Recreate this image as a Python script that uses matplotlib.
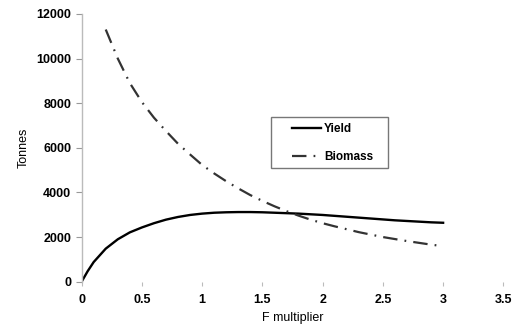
import matplotlib
matplotlib.use("Agg")
import matplotlib.pyplot as plt
from matplotlib.patches import Rectangle

f_yield = [0.0, 0.05, 0.1, 0.2, 0.3, 0.4, 0.5, 0.6, 0.7, 0.8, 0.9, 1.0, 1.1, 1.2, 1.3, 1.4, 1.5,
           1.6, 1.7, 1.8, 1.9, 2.0, 2.1, 2.2, 2.3, 2.4, 2.5, 2.6, 2.7, 2.8, 2.9, 3.0]
yield_t = [0, 470, 880, 1480, 1900, 2210, 2430, 2620, 2780, 2900, 2990, 3050, 3090, 3110, 3120,
           3120, 3110, 3090, 3070, 3050, 3020, 2990, 2950, 2910, 2870, 2830, 2790, 2750,
           2720, 2690, 2660, 2640]
f_biomass = [0.2, 0.3, 0.4, 0.5, 0.6, 0.7, 0.8, 0.9, 1.0, 1.1, 1.2, 1.3, 1.4, 1.5,
             1.6, 1.7, 1.8, 1.9, 2.0, 2.1, 2.2, 2.3, 2.4, 2.5, 2.6, 2.7, 2.8, 2.9, 3.0]
biomass_t = [11300, 10000, 8900, 8050, 7350, 6750, 6180, 5700, 5230, 4850, 4500, 4180,
             3880, 3620, 3380, 3160, 2960, 2780, 2620, 2480, 2350, 2220, 2110, 2000,
             1910, 1820, 1740, 1660, 1590]
x_ticks = [0, 0.5, 1, 1.5, 2, 2.5, 3, 3.5]
x_tick_labels = ["0", "0.5", "1", "1.5", "2", "2.5", "3", "3.5"]
y_ticks = [0, 2000, 4000, 6000, 8000, 10000, 12000]
y_tick_labels = ["0", "2000", "4000", "6000", "8000", "10000", "12000"]

plt.rcParams['font.family'] = ['Liberation Sans', 'DejaVu Sans']

fig = plt.figure(figsize=(5.2, 3.31), dpi=100)
ax = fig.add_axes([0.157, 0.149, 0.811, 0.809])

ax.plot(f_yield, yield_t, color='black', lw=1.7, label='Yield')
ax.plot(f_biomass, biomass_t, color='#333333', lw=1.6, dashes=(6.5, 3.2, 0.8, 3.2),
        label='Biomass')

ax.set_xlim(0, 3.5)
ax.set_ylim(0, 12000)
ax.set_xticks(x_ticks)
ax.set_xticklabels(x_tick_labels)
ax.set_yticks(y_ticks)
ax.set_yticklabels(y_tick_labels)

for s in ['top', 'right', 'bottom']:
    ax.spines[s].set_visible(False)
ax.spines['left'].set_color('#bbbbbb')
ax.spines['left'].set_linewidth(1.0)
ax.tick_params(axis='y', colors='#999999', length=4, width=0.8, direction='out', labelcolor='black',
               labelsize=9)
ax.tick_params(axis='x', colors='#bbbbbb', length=3, width=0.8, direction='out', labelcolor='black',
               labelsize=9, pad=6)
for t in ax.get_xticklabels() + ax.get_yticklabels():
    t.set_fontweight('bold')

ax.set_xlabel('F multiplier', fontsize=9, labelpad=4)
ax.set_ylabel('Tonnes', fontsize=9, labelpad=5)

fig.patches.append(Rectangle((271 / 520, 1 - 168 / 331), 117 / 520, 51 / 331,
                             transform=fig.transFigure, fill=False, edgecolor='#777777',
                             linewidth=1.0, zorder=5))
leg = ax.legend(loc='center left', bbox_to_anchor=(292 / 520, 1 - 143 / 331),
                bbox_transform=fig.transFigure, frameon=False, fontsize=8.5,
                handlelength=2.45, handletextpad=0.25, borderpad=0, labelspacing=1.3,
                borderaxespad=0)
for t in leg.get_texts():
    t.set_fontweight('bold')

fig.savefig('out.png', dpi=100)
